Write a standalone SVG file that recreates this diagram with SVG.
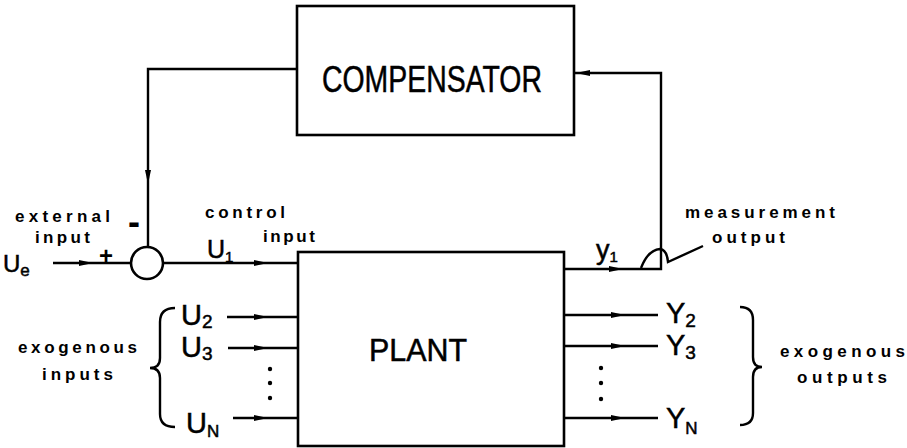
<svg xmlns="http://www.w3.org/2000/svg" width="907" height="448" viewBox="0 0 907 448">
<defs>
<path id="ah" d="M-14,-3 L0,0 L-14,3 Z" fill="#000"/>
<style>
.box{fill:#fff;stroke:#000;stroke-width:2.6}
.ln{fill:none;stroke:#000;stroke-width:2.4}
.big{font-family:"Liberation Sans",Arial,sans-serif;fill:#000;stroke:#000;stroke-width:0.5}
.sm{font-family:"Liberation Sans",Arial,sans-serif;font-size:17px;fill:#000;font-weight:bold}
</style>
</defs>
<rect width="907" height="448" fill="#fff"/>
<g id="connectors">
<path class="ln" d="M53,263 L131,263"/>
<path class="ln" d="M297,69 L148,69 L148,247"/>
<path class="ln" d="M164,263 L298,263"/>
<path class="ln" d="M564,269 L661,269 L661,73 L574,73"/>
<path class="ln" d="M641,268 Q648,250 660,249 Q667,250 668,262 L703,246"/>
<path class="ln" d="M227,317 L298,317"/>
<path class="ln" d="M228,348 L298,348"/>
<path class="ln" d="M233,418 L298,418"/>
<path class="ln" d="M564,315 L658,315"/>
<path class="ln" d="M564,346 L658,346"/>
<path class="ln" d="M564,418 L658,418"/>
<use href="#ah" transform="translate(93,263)"/>
<use href="#ah" transform="translate(148,184) rotate(90)"/>
<use href="#ah" transform="translate(268,263)"/>
<use href="#ah" transform="translate(623,269)"/>
<use href="#ah" transform="translate(576,73) rotate(180)"/>
<use href="#ah" transform="translate(268,317)"/>
<use href="#ah" transform="translate(268,348)"/>
<use href="#ah" transform="translate(268,418)"/>
<use href="#ah" transform="translate(625,315)"/>
<use href="#ah" transform="translate(625,346)"/>
<use href="#ah" transform="translate(625,418)"/>
<path class="ln" d="M175,308 Q160,308 160,322 L160,358 Q160,368 150,368 Q160,368 160,378 L160,414 Q160,427 175,427"/>
<path class="ln" d="M740,307 Q753,307 753,320 L753,357 Q753,367 762,367 Q753,367 753,377 L753,413 Q753,425 740,425"/>
</g>
<g id="compensator">
<rect class="box" x="297" y="6" width="277" height="129"/>
<text class="big" x="322" y="92" font-size="37" textLength="220" lengthAdjust="spacingAndGlyphs">COMPENSATOR</text>
</g>
<g id="summer">
<circle cx="147" cy="263" r="16" fill="#fff" stroke="#000" stroke-width="2.6"/>
<text class="sm" x="128" y="234" font-size="36" style="font-size:36px">-</text>
<text class="sm" x="99" y="264" style="font-size:24px">+</text>
</g>
<g id="plant">
<rect class="box" x="298" y="252" width="266" height="194"/>
<text class="big" x="369" y="361" font-size="31" textLength="98" lengthAdjust="spacingAndGlyphs">PLANT</text>
</g>
<g id="labels">
<text class="sm" x="15" y="222" textLength="95" lengthAdjust="spacing">external</text>
<text class="sm" x="35" y="243" textLength="55" lengthAdjust="spacing">input</text>
<text class="big" x="3" y="272" font-size="24">U<tspan font-size="17" dy="4">e</tspan></text>
<text class="sm" x="205" y="218" textLength="80" lengthAdjust="spacing">control</text>
<text class="sm" x="263" y="242" textLength="52" lengthAdjust="spacing">input</text>
<text class="big" x="207" y="258" font-size="25">U<tspan font-size="15" dy="4">1</tspan></text>
<text class="big" x="596" y="259" font-size="27">y<tspan font-size="15" dy="3">1</tspan></text>
<text class="sm" x="685" y="218" textLength="150" lengthAdjust="spacing">measurement</text>
<text class="sm" x="712" y="243" textLength="73" lengthAdjust="spacing">output</text>
<text class="sm" x="18" y="353" textLength="119" lengthAdjust="spacing">exogenous</text>
<text class="sm" x="42" y="380" textLength="71" lengthAdjust="spacing">inputs</text>
<text class="big" x="181" y="325" font-size="29">U<tspan font-size="19" dy="3">2</tspan></text>
<text class="big" x="181" y="357" font-size="29">U<tspan font-size="19" dy="3">3</tspan></text>
<text class="big" x="186" y="433" font-size="29">U<tspan font-size="17" dy="4">N</tspan></text>
<text class="big" x="666" y="323" font-size="29">Y<tspan font-size="19" dy="4">2</tspan></text>
<text class="big" x="666" y="355" font-size="29">Y<tspan font-size="19" dy="4">3</tspan></text>
<text class="big" x="666" y="428" font-size="29">Y<tspan font-size="17" dy="6">N</tspan></text>
<text class="sm" x="780" y="357" textLength="125" lengthAdjust="spacing">exogenous</text>
<text class="sm" x="797" y="383" textLength="90" lengthAdjust="spacing">outputs</text>
<circle cx="270" cy="369" r="2.2"/><circle cx="270" cy="383" r="2.2"/><circle cx="270" cy="398" r="2.2"/>
<circle cx="601" cy="368" r="2.2"/><circle cx="601" cy="383" r="2.2"/><circle cx="601" cy="399" r="2.2"/>
</g>
</svg>
